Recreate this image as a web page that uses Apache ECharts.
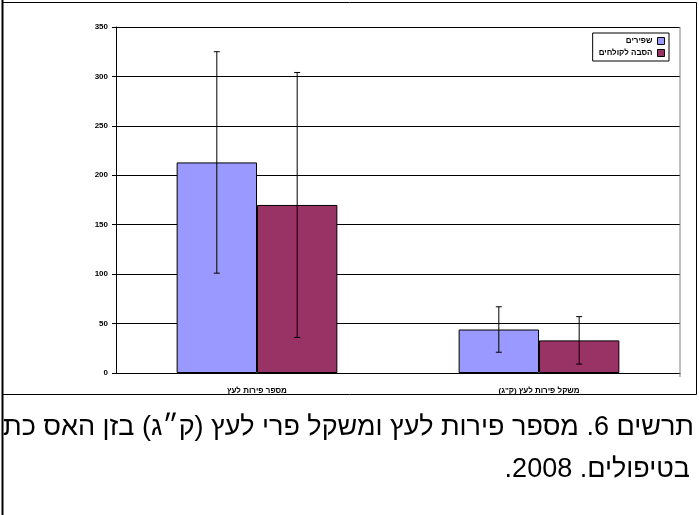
<!DOCTYPE html>
<html dir="rtl"><head><meta charset="utf-8">
<script src="https://cdn.jsdelivr.net/npm/echarts@6/dist/echarts.min.js"></script>
<style>html,body{margin:0;padding:0;background:#fff}#c{width:699px;height:515px}</style>
</head><body><div id="c"></div>
<script>
var categories = ['מספר פירות לעץ', 'משקל פירות לעץ (ק"ג)'];
var seriesNames = ['שפירים', 'הסבה לקולחים'];
var shapirim = [213, 44];
var shapirimErr = [112, 23];
var kolchim = [170, 33];
var kolchimErr = [134, 24];
var colors = ['#9999ff', '#993366'];

var chart = echarts.init(document.getElementById('c'));
var font = 'Liberation Sans, Arial, sans-serif';

function errSeries(vals, errs, idx) {
    return {
        type: 'custom',
        name: seriesNames[idx] + ' err',
        z: 10,
        data: vals.map(function(v, i) { return [i, v - errs[i], v + errs[i]]; }),
        renderItem: function(params, api) {
            var lo = api.coord([api.value(0), api.value(1)]);
            var hi = api.coord([api.value(0), api.value(2)]);
            var bw = api.size([1, 0])[0] * 0.285;
            var x = lo[0] + (idx === 0 ? -bw / 2 : bw / 2);
            var st = { stroke: '#000', lineWidth: 1 };
            return { type: 'group', children: [
                { type: 'line', shape: { x1: x, y1: lo[1], x2: x, y2: hi[1] }, style: st },
                { type: 'line', shape: { x1: x - 3, y1: lo[1], x2: x + 3, y2: lo[1] }, style: st },
                { type: 'line', shape: { x1: x - 3, y1: hi[1], x2: x + 3, y2: hi[1] }, style: st }
            ] };
        }
    };
}

chart.setOption({
    animation: false,
    textStyle: { fontFamily: font },
    grid: { left: 116, right: 19, top: 27, bottom: 142, containLabel: false },
    legend: {
        orient: 'vertical', right: 30, top: 33, itemWidth: 7, itemHeight: 7, itemGap: 4,
        align: 'right', padding: [4, 4, 4, 6], borderColor: '#000', borderWidth: 1,
        textStyle: { fontSize: 8, fontWeight: 'bold', color: '#000' },
        icon: 'rect', itemStyle: { borderColor: '#000', borderWidth: 1 },
        data: seriesNames
    },
    xAxis: {
        type: 'category', data: categories,
        axisLine: { lineStyle: { color: '#000' } },
        axisTick: { lineStyle: { color: '#000' }, length: 4 },
        axisLabel: { fontSize: 8, fontWeight: 'bold', color: '#000', margin: 14 }
    },
    yAxis: {
        type: 'value', min: 0, max: 350, interval: 50,
        axisLine: { show: true, lineStyle: { color: '#000' } },
        axisTick: { show: true, lineStyle: { color: '#000' }, length: 4 },
        axisLabel: { fontSize: 8, fontWeight: 'bold', color: '#000', margin: 8 },
        splitLine: { lineStyle: { color: '#000', width: 1 } }
    },
    series: [
        { type: 'bar', name: seriesNames[0], data: shapirim, barWidth: '28.5%', barGap: '0%',
          itemStyle: { color: colors[0], borderColor: '#000', borderWidth: 1 } },
        { type: 'bar', name: seriesNames[1], data: kolchim, barWidth: '28.5%',
          itemStyle: { color: colors[1], borderColor: '#000', borderWidth: 1 } },
        errSeries(shapirim, shapirimErr, 0),
        errSeries(kolchim, kolchimErr, 1)
    ],
    graphic: [
        { type: 'line', z: 1, shape: { x1: 680, y1: 27, x2: 680, y2: 377 }, style: { stroke: '#808080', lineWidth: 1 } },
        { type: 'text', z: 1, style: { x: 694, y: 428, textAlign: 'right', textVerticalAlign: 'middle',
          text: 'תרשים 6. מספר פירות לעץ ומשקל פרי לעץ (ק״ג) בזן האס כתלות', font: '27px ' + font, fill: '#000' } },
        { type: 'text', z: 1, style: { x: 690, y: 470, textAlign: 'right', textVerticalAlign: 'middle',
          text: 'בטיפולים. 2008.', font: '27px ' + font, fill: '#000' } },
        { type: 'rect', z: 2, shape: { x: 0, y: 396, width: 2, height: 119 }, style: { fill: '#fff' } },
        { type: 'line', z: 3, shape: { x1: 2.5, y1: 0, x2: 2.5, y2: 515 }, style: { stroke: '#000', lineWidth: 2 } },
        { type: 'rect', z: 3, shape: { x: 2.5, y: 2.5, width: 694, height: 392 }, style: { fill: 'none', stroke: '#000', lineWidth: 1 } }
    ]
});
</script></body></html>
